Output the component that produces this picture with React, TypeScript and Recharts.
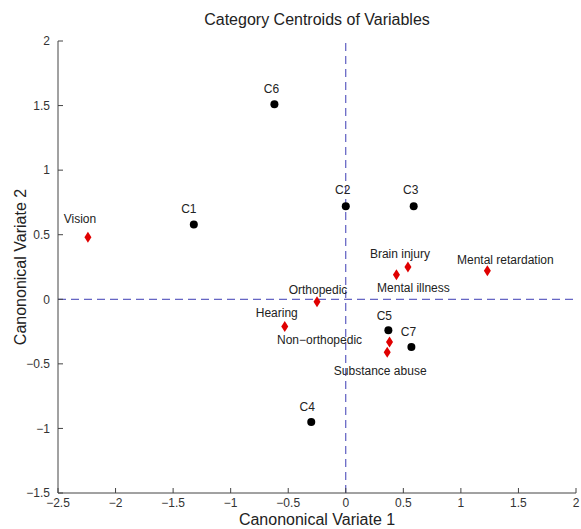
import { ScatterChart, Scatter, XAxis, YAxis, ReferenceLine, Label } from 'recharts'

// group centroids (black dots)
const clusterNames = ['C1', 'C2', 'C3', 'C4', 'C5', 'C6', 'C7']
const clusterX = [-1.32, 0.0, 0.59, -0.3, 0.37, -0.62, 0.57]
const clusterY = [0.58, 0.72, 0.72, -0.95, -0.24, 1.51, -0.37]

// disability centroids (red diamonds)
const disabilityNames = [
  'Vision',
  'Brain injury',
  'Mental illness',
  'Mental retardation',
  'Orthopedic',
  'Hearing',
  'Non−orthopedic',
  'Substance abuse',
]
const disabilityX = [-2.24, 0.54, 0.44, 1.23, -0.25, -0.53, 0.38, 0.36]
const disabilityY = [0.48, 0.25, 0.19, 0.22, -0.02, -0.21, -0.33, -0.41]

const xTicks = [-2.5, -2, -1.5, -1, -0.5, 0, 0.5, 1, 1.5, 2]
const yTicks = [-1.5, -1, -0.5, 0, 0.5, 1, 1.5, 2]

// where each text sits relative to its marker (px)
const LABEL_OFFSETS: Record<string, [number, number]> = {
  C1: [-5, -15],
  C2: [-3, -16],
  C3: [-3, -16],
  C4: [-4, -15],
  C5: [-4, -14],
  C6: [-3, -15],
  C7: [-3, -15],
  Vision: [-8, -18],
  'Brain injury': [-8, -13],
  'Mental illness': [17, 13],
  'Mental retardation': [18, -11],
  Orthopedic: [1, -12],
  Hearing: [-8, -13],
  'Non−orthopedic': [-70, -2],
  'Substance abuse': [-7, 19],
}

const clusterData = clusterNames.map((name, i) => ({ name, x: clusterX[i], y: clusterY[i] }))
const disabilityData = disabilityNames.map((name, i) => ({ name, x: disabilityX[i], y: disabilityY[i] }))

const FONT = '"Liberation Sans", Arial, Helvetica, sans-serif'
const fmt = (v: number) => String(v).replace('-', '−')

function PointLabel({ cx, cy, name }: { cx: number; cy: number; name: string }) {
  const [dx, dy] = LABEL_OFFSETS[name] || [0, -14]
  return (
    <text
      x={cx + dx}
      y={cy + dy}
      textAnchor="middle"
      dominantBaseline="central"
      fontSize={12}
      fontFamily={FONT}
      fill="#222"
    >
      {name}
    </text>
  )
}

function Dot(props: any) {
  const { cx, cy, payload } = props
  return (
    <g>
      <circle cx={cx} cy={cy} r={4} fill="#000" />
      <PointLabel cx={cx} cy={cy} name={payload.name} />
    </g>
  )
}

function Diamond(props: any) {
  const { cx, cy, payload } = props
  const w = 3.5
  const h = 5.5
  return (
    <g>
      <polygon
        points={`${cx},${cy - h} ${cx + w},${cy} ${cx},${cy + h} ${cx - w},${cy}`}
        fill="#e00000"
      />
      <PointLabel cx={cx} cy={cy} name={payload.name} />
    </g>
  )
}

export default function App() {
  return (
    <div style={{ position: 'absolute', left: 0, top: 0, width: 581, height: 529, background: '#fff' }}>
      <div
        style={{
          position: 'absolute',
          top: 11,
          left: 58,
          width: 518,
          textAlign: 'center',
          fontFamily: FONT,
          fontSize: 16,
          color: '#222',
        }}
      >
        Category Centroids of Variables
      </div>
      <ScatterChart width={581} height={529} margin={{ top: 41, right: 5, bottom: 0, left: 0 }}>
        <XAxis
          type="number"
          dataKey="x"
          domain={[-2.5, 2]}
          ticks={xTicks}
          tickFormatter={fmt}
          allowDataOverflow
          height={36}
          tickSize={-5}
          tickMargin={10}
          stroke="#444"
          tick={{ fill: '#333', fontSize: 12, fontFamily: FONT }}
        >
          <Label
            value="Canononical Variate 1"
            position="insideBottom"
            offset={4}
            style={{ fontSize: 16, fontFamily: FONT, fill: '#222' }}
          />
        </XAxis>
        <YAxis
          type="number"
          dataKey="y"
          domain={[-1.5, 2]}
          ticks={yTicks}
          tickFormatter={fmt}
          allowDataOverflow
          width={58}
          tickSize={-5}
          tickMargin={13}
          stroke="#444"
          tick={{ fill: '#333', fontSize: 12, fontFamily: FONT }}
        >
          <Label
            value="Canononical Variate 2"
            angle={-90}
            position="insideLeft"
            offset={20}
            style={{ fontSize: 16, fontFamily: FONT, fill: '#222', textAnchor: 'middle' }}
          />
        </YAxis>
        <ReferenceLine x={0} stroke="#3c3cb4" strokeDasharray="8 5" />
        <ReferenceLine y={0} stroke="#3c3cb4" strokeDasharray="8 5" />
        <Scatter data={clusterData} shape={Dot} isAnimationActive={false} />
        <Scatter data={disabilityData} shape={Diamond} isAnimationActive={false} />
      </ScatterChart>
    </div>
  )
}
